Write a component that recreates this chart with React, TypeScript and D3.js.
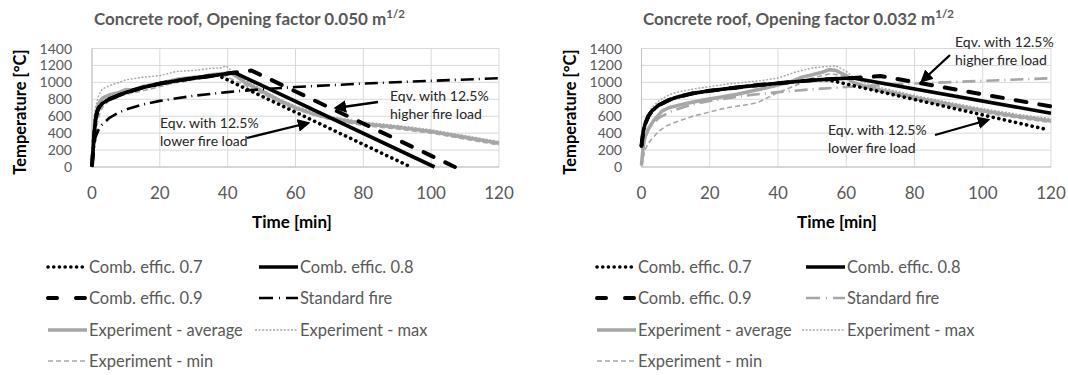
import React from "react";
import * as d3 from "d3";

// ---------- DATA ----------
const xTicks = [0, 20, 40, 60, 80, 100, 120];
const yTicks = [0, 200, 400, 600, 800, 1000, 1200, 1400];

// Left chart: opening factor 0.050
const L_eff07_t = [0, 0.5, 1, 1.5, 2, 3, 5, 8, 10, 15, 20, 25, 30, 35, 37, 94];
const L_eff07_v = [20, 300, 550, 650, 700, 750, 800, 850, 880, 940, 985, 1020, 1050, 1075, 1085, 0];
const L_eff08_t = [0, 0.5, 1, 1.5, 2, 3, 5, 8, 10, 15, 20, 25, 30, 35, 40, 42, 101];
const L_eff08_v = [20, 300, 550, 650, 700, 750, 800, 850, 880, 940, 985, 1020, 1050, 1075, 1105, 1115, 0];
const L_eff09_t = [0, 0.5, 1, 1.5, 2, 3, 5, 8, 10, 15, 20, 25, 30, 35, 40, 45, 47, 107];
const L_eff09_v = [20, 300, 550, 650, 700, 750, 800, 850, 880, 940, 985, 1020, 1050, 1075, 1105, 1130, 1140, 0];
const L_std_t = [0, 1, 2, 3, 5, 8, 10, 15, 20, 30, 40, 50, 60, 80, 100, 120];
const L_std_v = [20, 349, 445, 502, 576, 646, 678, 739, 781, 842, 885, 918, 945, 986, 1018, 1049];
const L_avg_t = [0, 0.5, 1, 2, 3, 5, 8, 10, 12, 15, 20, 25, 30, 33, 35, 38, 41, 43, 45, 50, 55, 60, 65, 70, 75, 80, 90, 100, 110, 120];
const L_avg_v = [20, 350, 600, 750, 810, 850, 880, 915, 910, 950, 990, 1035, 1060, 1070, 1090, 1100, 1110, 1060, 1000, 900, 790, 700, 630, 580, 545, 510, 470, 420, 350, 280];
const L_max_t = [0, 0.5, 1, 2, 3, 5, 8, 10, 15, 20, 25, 30, 35, 38, 39.5, 41, 45, 50, 55, 60, 70, 80, 90, 100, 110, 120];
const L_max_v = [20, 400, 700, 850, 920, 960, 1000, 1030, 1060, 1080, 1130, 1140, 1165, 1170, 1195, 1140, 1030, 920, 810, 720, 600, 530, 490, 440, 370, 300];
const L_min_t = [0, 1, 2, 3, 5, 8, 10, 15, 20, 25, 30, 35, 38, 40, 45, 50, 55, 60, 70, 80, 90, 100, 110, 120];
const L_min_v = [20, 400, 600, 700, 780, 830, 860, 900, 950, 1000, 1030, 1060, 1080, 1060, 970, 870, 770, 680, 560, 490, 450, 400, 330, 260];

// Right chart: opening factor 0.032
const R_eff07_t = [0, 0.5, 1, 2, 3, 5, 8, 10, 15, 20, 30, 40, 50, 54, 118];
const R_eff07_v = [250, 420, 500, 600, 660, 730, 790, 820, 870, 900, 950, 990, 1025, 1035, 450];
const R_eff08_t = [0, 0.5, 1, 2, 3, 5, 8, 10, 15, 20, 30, 40, 50, 54, 60, 62, 120];
const R_eff08_v = [250, 420, 500, 600, 660, 730, 790, 820, 870, 900, 950, 990, 1025, 1035, 1048, 1052, 635];
const R_eff09_t = [0, 0.5, 1, 2, 3, 5, 8, 10, 15, 20, 30, 40, 50, 54, 60, 62, 65, 70, 120];
const R_eff09_v = [250, 420, 500, 600, 660, 730, 790, 820, 870, 900, 950, 990, 1025, 1035, 1048, 1052, 1060, 1075, 715];
const R_std_t = [0, 1, 2, 3, 5, 8, 10, 15, 20, 30, 40, 50, 60, 80, 100, 120];
const R_std_v = [20, 349, 445, 502, 576, 646, 678, 739, 781, 842, 885, 918, 945, 986, 1018, 1049];
const R_avg_t = [0, 0.5, 1, 2, 3.5, 6, 8, 13, 18, 23, 28, 33, 36, 40, 44, 47, 50, 53, 55, 57, 60, 62, 65, 70, 80, 90, 100, 110, 120];
const R_avg_v = [20, 240, 350, 450, 545, 660, 700, 750, 790, 825, 860, 905, 930, 970, 1010, 1060, 1090, 1120, 1150, 1140, 1080, 1000, 960, 910, 820, 740, 665, 600, 545];
const R_max_t = [0, 0.5, 1, 2, 3, 5, 8, 10, 15, 20, 25, 30, 35, 40, 45, 50, 55, 57, 60, 62, 65, 70, 80, 90, 100, 110, 120];
const R_max_v = [20, 450, 560, 600, 700, 780, 850, 880, 920, 950, 980, 1000, 1020, 1050, 1120, 1170, 1190, 1195, 1130, 1060, 1000, 940, 845, 765, 690, 625, 570];
const R_min_t = [0, 1, 2, 3, 5, 7, 10, 15, 20, 25, 30, 34, 40, 45, 49, 55, 58, 62, 65, 70, 80, 90, 100, 110, 120];
const R_min_v = [20, 200, 280, 330, 420, 480, 530, 600, 650, 700, 730, 760, 880, 960, 1040, 1100, 1090, 990, 940, 890, 800, 720, 645, 580, 525];

// legend labels
const legendLabels = [
  "Comb. effic. 0.7",
  "Comb. effic. 0.8",
  "Comb. effic. 0.9",
  "Standard fire",
  "Experiment - average",
  "Experiment - max",
  "Experiment - min",
];

const FONT = "Lato, 'Open Sans', sans-serif";
const BLACK = "#000000";
const GRAY = "#a6a6a6";
const TXT = "#595959";

type Style = { color: string; width: number; dash?: string; cap?: string };

function styles(stdColor: string): Style[] {
  return [
    { color: BLACK, width: 3.6, dash: "0.1 5.6", cap: "round" },
    { color: BLACK, width: 3.6 },
    { color: BLACK, width: 4, dash: "11 13", cap: "round" },
    { color: stdColor, width: 2.6, dash: "13 5 1 5", cap: "butt" },
    { color: GRAY, width: 3.6 },
    { color: GRAY, width: 1.4, dash: "2 1.6" },
    { color: GRAY, width: 1.6, dash: "5 3" },
  ];
}

type Panel = {
  title: string;
  titleX: number;
  x0: number;
  x1: number;
  series: [number[], number[]][];
  stdColor: string;
  ytitleX: number;
  tickRight: number;
  xTitleX: number;
  legendX: number;
  legendX2: number;
  annos: { lines: string[]; tx: number; ty: number; ax1: number; ay1: number; ax2: number; ay2: number }[];
};

const panels: Panel[] = [
  {
    title: "Concrete roof, Opening factor 0.050 m",
    titleX: 94,
    x0: 92,
    x1: 499,
    series: [
      [L_eff07_t, L_eff07_v],
      [L_eff08_t, L_eff08_v],
      [L_eff09_t, L_eff09_v],
      [L_std_t, L_std_v],
      [L_avg_t, L_avg_v],
      [L_max_t, L_max_v],
      [L_min_t, L_min_v],
    ],
    stdColor: BLACK,
    ytitleX: 26,
    tickRight: 72,
    xTitleX: 292,
    legendX: 48,
    legendX2: 259,
    annos: [
      { lines: ["Eqv. with 12.5%", "higher fire load"], tx: 390, ty: 101, ax1: 378, ay1: 102, ax2: 336, ay2: 108 },
      { lines: ["Eqv. with 12.5%", "lower fire load"], tx: 160, ty: 128, ax1: 247, ay1: 138, ax2: 308, ay2: 123 },
    ],
  },
  {
    title: "Concrete roof, Opening factor 0.032 m",
    titleX: 643,
    x0: 641.5,
    x1: 1051,
    series: [
      [R_eff07_t, R_eff07_v],
      [R_eff08_t, R_eff08_v],
      [R_eff09_t, R_eff09_v],
      [R_std_t, R_std_v],
      [R_avg_t, R_avg_v],
      [R_max_t, R_max_v],
      [R_min_t, R_min_v],
    ],
    stdColor: GRAY,
    ytitleX: 576,
    tickRight: 622,
    xTitleX: 837,
    legendX: 597,
    legendX2: 806,
    annos: [
      { lines: ["Eqv. with 12.5%", "higher fire load"], tx: 955, ty: 47, ax1: 950, ay1: 55, ax2: 922, ay2: 81 },
      { lines: ["Eqv. with 12.5%", "lower fire load"], tx: 828, ty: 135, ax1: 935, ay1: 135, ax2: 988, ay2: 120 },
    ],
  },
];

const Y0 = 167;
const Y1 = 48.5;

function PanelView({ p, idx }: { p: Panel; idx: number }) {
  const x = d3.scaleLinear().domain([0, 120]).range([p.x0, p.x1]);
  const y = d3.scaleLinear().domain([0, 1400]).range([Y0, Y1]);
  const st = styles(p.stdColor);
  const line = d3
    .line<[number, number]>()
    .x((d) => x(d[0]))
    .y((d) => y(d[1]));
  const order = [4, 5, 6, 3, 0, 1, 2];
  const rowY = [267, 298, 330, 361];
  const legendPos = legendLabels.map((_, i) => {
    const row = Math.floor(i / 2);
    const col = i % 2;
    return { x: col === 0 ? p.legendX : p.legendX2, y: rowY[row] };
  });
  const mid = `arrow${idx}`;
  return (
    <g>
      <defs>
        <marker id={mid} viewBox="0 0 10 10" refX="8" refY="5" markerWidth="5.5" markerHeight="5.5" orient="auto">
          <path d="M0,0 L10,5 L0,10 z" fill="#000" />
        </marker>
      </defs>
      <text x={p.titleX} y={25} fontFamily={FONT} fontWeight="bold" fontSize={17} fill={TXT}>
        {p.title}
        <tspan fontSize={11.5} dy={-7}>1/2</tspan>
      </text>
      {/* grid */}
      {yTicks.map((t) => (
        <line key={"gy" + t} x1={p.x0} x2={p.x1} y1={y(t)} y2={y(t)} stroke="#d9d9d9" strokeWidth={1} />
      ))}
      {xTicks.map((t) => (
        <line key={"gx" + t} x1={x(t)} x2={x(t)} y1={Y1} y2={Y0} stroke="#d9d9d9" strokeWidth={1} />
      ))}
      <line x1={p.x0} x2={p.x1} y1={Y0} y2={Y0} stroke="#bfbfbf" strokeWidth={1} />
      <line x1={p.x0} x2={p.x0} y1={Y1} y2={Y0} stroke="#bfbfbf" strokeWidth={1} />
      {/* tick labels */}
      {yTicks.map((t) => (
        <text key={"ty" + t} x={p.tickRight} y={y(t) + 5} textAnchor="end" fontFamily={FONT} fontSize={14} fill={TXT}>
          {t}
        </text>
      ))}
      {xTicks.map((t) => (
        <text key={"tx" + t} x={x(t)} y={199} textAnchor="middle" fontFamily={FONT} fontSize={17} fill={TXT}>
          {t}
        </text>
      ))}
      <text
        transform={`translate(${p.ytitleX},${112}) rotate(-90)`}
        textAnchor="middle"
        fontFamily={FONT}
        fontWeight="bold"
        fontSize={16.5}
        fill="#000"
      >
        Temperature [°C]
      </text>
      <text x={p.xTitleX} y={228} textAnchor="middle" fontFamily={FONT} fontWeight="bold" fontSize={17} fill="#000">
        Time [min]
      </text>
      {/* series */}
      {order.map((i) => {
        const [ts, vs] = p.series[i];
        const pts = ts.map((t, k) => [t, vs[k]] as [number, number]);
        const s = st[i];
        return (
          <path
            key={"s" + i}
            d={line(pts) || ""}
            fill="none"
            stroke={s.color}
            strokeWidth={s.width}
            strokeDasharray={s.dash}
            strokeLinecap={(s.cap as any) || "butt"}
            strokeLinejoin="round"
          />
        );
      })}
      {/* annotations */}
      {p.annos.map((a, k) => (
        <g key={"a" + k}>
          {a.lines.map((l, j) => (
            <text key={j} x={a.tx} y={a.ty + j * 17.5} fontFamily={FONT} fontSize={14} fill="#262626">
              {l}
            </text>
          ))}
          <line x1={a.ax1} y1={a.ay1} x2={a.ax2} y2={a.ay2} stroke="#000" strokeWidth={2.3} markerEnd={`url(#${mid})`} />
        </g>
      ))}
      {/* legend */}
      {legendLabels.map((lab, i) => {
        const pos = legendPos[i];
        const s = st[i];
        const sx = i === 5 ? pos.x - 4 : pos.x;
        let dash = s.dash;
        if (i === 2) dash = "9 19";
        if (i === 3) dash = "14 6 1 6";
        return (
          <g key={"l" + i}>
            <line
              x1={sx}
              x2={pos.x + 39}
              y1={pos.y}
              y2={pos.y}
              stroke={s.color}
              strokeWidth={s.width}
              strokeDasharray={dash}
              strokeLinecap={(s.cap as any) || "butt"}
            />
            <text x={pos.x + 41} y={pos.y + 6} fontFamily={FONT} fontSize={16.5} fill={TXT}>
              {lab}
            </text>
          </g>
        );
      })}
    </g>
  );
}

export default function App() {
  return (
    <svg width={1068} height={375} style={{ position: "absolute", left: 0, top: 0, background: "#fff" }}>
      <rect width={1068} height={375} fill="#fff" />
      {panels.map((p, i) => (
        <PanelView key={i} p={p} idx={i} />
      ))}
    </svg>
  );
}
